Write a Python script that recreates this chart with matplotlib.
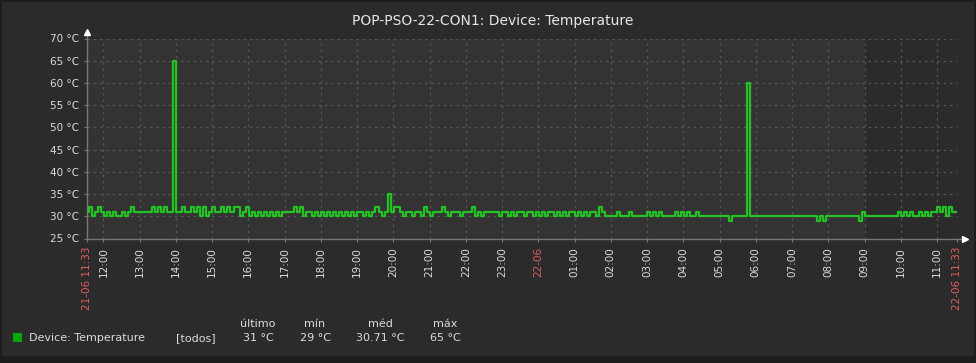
import numpy as np
import pandas as pd
import matplotlib
matplotlib.use("Agg")
import matplotlib.pyplot as plt
from matplotlib.patches import Rectangle

# temperature samples every 5 minutes, one row per hour, from 21-06 11:33
temp_rows = [
    [31, 32, 30, 31, 32, 31, 30, 31, 30, 31, 30, 30],
    [31, 30, 31, 32, 31, 31, 31, 31, 31, 31, 32, 31],
    [32, 31, 32, 31, 31, 65, 31, 31, 32, 31, 31, 32],
    [31, 32, 30, 32, 30, 31, 32, 31, 31, 32, 31, 32],
    [31, 32, 32, 30, 31, 32, 30, 31, 30, 31, 30, 31],
    [30, 31, 30, 31, 30, 31, 31, 31, 31, 32, 31, 32],
    [30, 31, 31, 30, 31, 30, 31, 30, 31, 30, 31, 30],
    [31, 30, 31, 30, 31, 30, 31, 31, 30, 31, 30, 31],
    [32, 31, 30, 31, 35, 31, 32, 32, 31, 30, 31, 31],
    [30, 31, 31, 30, 32, 31, 30, 31, 31, 31, 32, 31],
    [30, 31, 31, 31, 30, 31, 31, 31, 32, 30, 31, 30],
    [31, 31, 31, 31, 31, 30, 31, 31, 30, 31, 30, 31],
    [31, 30, 31, 31, 30, 31, 30, 31, 30, 31, 31, 30],
    [31, 30, 31, 30, 31, 31, 30, 31, 30, 31, 30, 31],
    [31, 30, 32, 31, 30, 30, 30, 30, 31, 30, 30, 30],
    [31, 30, 30, 30, 30, 30, 31, 30, 31, 30, 31, 30],
    [30, 30, 30, 31, 30, 31, 30, 31, 30, 30, 31, 30],
    [30, 30, 30, 30, 30, 30, 30, 30, 30, 29, 30, 30],
    [30, 30, 30, 60, 30, 30, 30, 30, 30, 30, 30, 30],
    [30, 30, 30, 30, 30, 30, 30, 30, 30, 30, 30, 30],
    [30, 30, 29, 30, 29, 30, 30, 30, 30, 30, 30, 30],
    [30, 30, 30, 30, 29, 31, 30, 30, 30, 30, 30, 30],
    [30, 30, 30, 30, 30, 31, 30, 31, 30, 31, 30, 30],
    [31, 30, 31, 30, 31, 31, 32, 31, 32, 30, 32, 31],
    [31],
]
temps = [v for row in temp_rows for v in row]

y_ticks = [25, 30, 35, 40, 45, 50, 55, 60, 65, 70]
title = "POP-PSO-22-CON1: Device: Temperature"
series_name = "Device: Temperature"
legend_heads = ["último", "mín", "méd", "máx"]
legend_vals = ["31 °C", "29 °C", "30.71 °C", "65 °C"]

times = pd.date_range("2023-06-21 11:33", periods=len(temps), freq="5min")
t_start, t_end = times[0], times[-1]
hours = pd.date_range("2023-06-21 12:00", "2023-06-22 11:00", freq="h")

txt = "#dcdcdc"
red = "#e35d5d"
grid_c = "#555555"

fig = plt.figure(figsize=(9.76, 3.63), dpi=100)
fig.patch.set_facecolor("#1d1d1d")
fig.add_artist(Rectangle((2 / 976, 7 / 363), 972 / 976, 354 / 363,
                         transform=fig.transFigure, facecolor="#2b2b2b",
                         edgecolor="none", zorder=-10))

ax = fig.add_axes([87 / 976, 1 - 238.5 / 363, 870 / 976, 200 / 363])
ax.set_facecolor("#333333")
ax.axvspan(pd.Timestamp("2023-06-22 09:00"), t_end, color="#2b2b2b", zorder=0)

for h in list(hours) + [t_end]:
    ax.axvline(h, color=grid_c, lw=0.9, ls=(0, (2, 3)), zorder=1)
for y in y_ticks[1:]:
    ax.axhline(y, color=grid_c, lw=0.9, ls=(0, (2, 3)), zorder=1)

ax.plot(times, temps, color="#22c322", lw=1.6, drawstyle="steps-mid", zorder=3)

ax.set_xlim(t_start, t_end)
ax.set_ylim(25, 70)

ax.set_yticks(y_ticks)
ax.set_yticklabels([f"{v} °C" for v in y_ticks], color=txt, fontsize=7.5)

xt = [t_start] + list(hours) + [t_end]
xl = [t_start.strftime("%d-%m %H:%M")]
for h in hours:
    xl.append(h.strftime("%d-%m") if h.hour == 0 else h.strftime("%H:%M"))
xl.append(t_end.strftime("%d-%m %H:%M"))
ax.set_xticks(xt)
ax.set_xticklabels(xl, rotation=90, fontsize=7.5, color=txt, va="top")
for lab, t in zip(ax.get_xticklabels(), xt):
    if t in (t_start, t_end) or t.hour == 0:
        lab.set_color(red)

ax.tick_params(axis="both", length=2, color="#777777", pad=4)
for s in ["top", "right"]:
    ax.spines[s].set_visible(False)
for s in ["left", "bottom"]:
    ax.spines[s].set_color("#777777")
    ax.spines[s].set_linewidth(1)

# axis arrows
ax.plot([0, 0], [1, 1.035], color="#777777", lw=1, transform=ax.transAxes, clip_on=False)
ax.plot(0, 1.035, marker="^", ms=4, color="white", transform=ax.transAxes, clip_on=False)
ax.plot([1, 1.009], [0, 0], color="#777777", lw=1, transform=ax.transAxes, clip_on=False)
ax.plot(1.009, 0, marker=">", ms=4, color="white", transform=ax.transAxes, clip_on=False)

fig.text(493 / 976, 1 - 21 / 363, title, color="#e6e6e6", fontsize=10,
         ha="center", va="center")

# legend
fig.add_artist(Rectangle((13 / 976, 1 - 342 / 363), 9 / 976, 9 / 363,
                         transform=fig.transFigure, facecolor="#00aa00",
                         edgecolor="none"))
fig.text(29 / 976, 1 - 338 / 363, series_name, color=txt, fontsize=8, va="center")
fig.text(196 / 976, 1 - 338 / 363, "[todos]", color=txt, fontsize=8,
         va="center", ha="center")
cols = [258, 315, 380, 445]
for x, head, val in zip(cols, legend_heads, legend_vals):
    fig.text(x / 976, 1 - 324 / 363, head, color=txt, fontsize=8, va="center", ha="center")
    fig.text(x / 976, 1 - 338 / 363, val, color=txt, fontsize=8, va="center", ha="center")

fig.savefig("out.png", dpi=100, facecolor=fig.get_facecolor())
